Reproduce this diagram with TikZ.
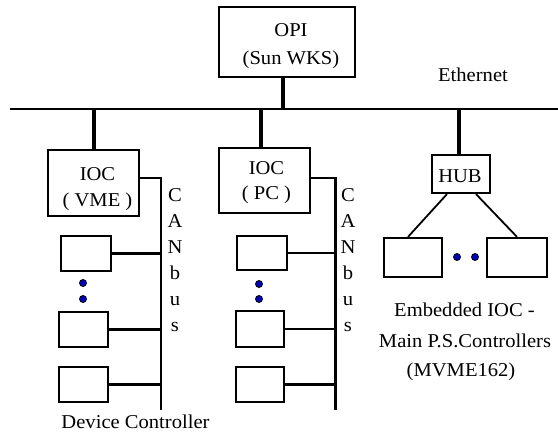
\documentclass[tikz,border=0pt]{standalone}
\usepackage{fontspec}
\setmainfont[FakeStretch=1.05]{Liberation Serif}
\definecolor{dotblue}{RGB}{0,0,190}
\begin{document}
\begin{tikzpicture}[x=1pt,y=-1pt,
  box/.style={draw,line width=2.2pt,inner sep=0pt},
  txt/.style={anchor=base,inner sep=0pt,font=\fontsize{19.6}{23}\selectfont},
  stem/.style={line width=3.2pt},
  ethl/.style={line width=1.4pt},
  bus/.style={line width=2.5pt},
  tie/.style={line width=2.8pt},
  hubl/.style={line width=1.8pt},
  dotn/.style={circle,draw=black,line width=0.8pt,fill=dotblue,inner sep=0pt,minimum size=7pt}]
\useasboundingbox (0,0) rectangle (558,435);

% boxes
\node[box,minimum width=136pt,minimum height=70pt] (opi) at (287,42) {};
\node[box,minimum width=91pt,minimum height=66pt] (vme) at (93.5,183) {};
\node[box,minimum width=91pt,minimum height=65pt] (pc) at (264.5,180.5) {};
\node[box,minimum width=58pt,minimum height=38pt] (hub) at (461,174) {};
\node[box,minimum width=50pt,minimum height=35pt] (v1) at (86,253.5) {};
\node[box,minimum width=49pt,minimum height=35pt] (v2) at (83.5,329.5) {};
\node[box,minimum width=49pt,minimum height=35pt] (v3) at (83.5,384.5) {};
\node[box,minimum width=50pt,minimum height=34pt] (p1) at (262,253) {};
\node[box,minimum width=48pt,minimum height=36pt] (p2) at (260,329) {};
\node[box,minimum width=48pt,minimum height=35pt] (p3) at (260,384.5) {};
\node[box,minimum width=58pt,minimum height=39pt] (e1) at (413,257.5) {};
\node[box,minimum width=60pt,minimum height=39pt] (e2) at (517,257.5) {};

% texts
\node[txt] (opit1) at (291,37) {OPI};
\node[txt] (opit2) at (291,65) {(Sun WKS)};
\node[txt] (etht) at (473,82) {Ethernet};
\node[txt] (vmet1) at (97.5,181) {IOC};
\node[txt] (vmet2) at (97.5,207) {( VME )};
\node[txt] (pct1) at (266.5,175) {IOC};
\node[txt] (pct2) at (266.5,200) {( PC )};
\node[txt] (hubt) at (460,183) {HUB};
\node[txt] (devt) at (135.5,429) {Device Controller};
\node[txt] (embt1) at (464.5,317) {Embedded IOC -};
\node[txt] (embt2) at (465,348) {Main P.S.Controllers};
\node[txt] (embt3) at (461,377) {(MVME162)};
\foreach \l/\yy [count=\i] in {C/202,A/228,N/254,b/280,u/306,s/332}{
  \node[txt] (cva\i) at (175,\yy) {\l};
  \node[txt] (cpa\i) at (348,\yy) {\l};
}

% ethernet
\coordinate (ethL) at (10,109);
\coordinate (ethR) at (558,109);
\draw[ethl] (ethL) -- (ethR);
\coordinate (tOPI) at (283,109);
\coordinate (tV) at (94,109);
\coordinate (tP) at (261,109);
\coordinate (tH) at (459,109);
\draw[stem] (tOPI) -- (tOPI |- opi.south);
\draw[stem] (tV) -- (tV |- vme.north);
\draw[stem] (tP) -- (tP |- pc.north);
\draw[stem] (tH) -- (tH |- hub.north);

% CAN buses
\coordinate (cvT) at (161,178);
\coordinate (cvB) at (161,410);
\coordinate (cpT) at (335.5,178);
\coordinate (cpB) at (335.5,410);
\draw[bus] (vme.east |- cvT) -- (cvT) -- (cvB);
\draw[bus] (pc.east |- cpT) -- (cpT) -- (cpB);
\foreach \b in {v1,v2,v3}{\draw[tie] (\b.east) -- (\b.east -| cvT);}
\foreach \b in {p1,p2,p3}{\draw[tie] (\b.east) -- (\b.east -| cpT);}

% hub links
\draw[hubl] ([xshift=-14pt]hub.south) -- ([xshift=-5pt]e1.north);
\draw[hubl] ([xshift=15pt]hub.south) -- (e2.north);

% dots
\node[dotn] (dv1) at (83,283) {};
\node[dotn] (dv2) at (83,299) {};
\node[dotn] (dp1) at (259,284) {};
\node[dotn] (dp2) at (259,299) {};
\node[dotn] (de1) at (457,257) {};
\node[dotn] (de2) at (475,257) {};
\end{tikzpicture}
\end{document}
